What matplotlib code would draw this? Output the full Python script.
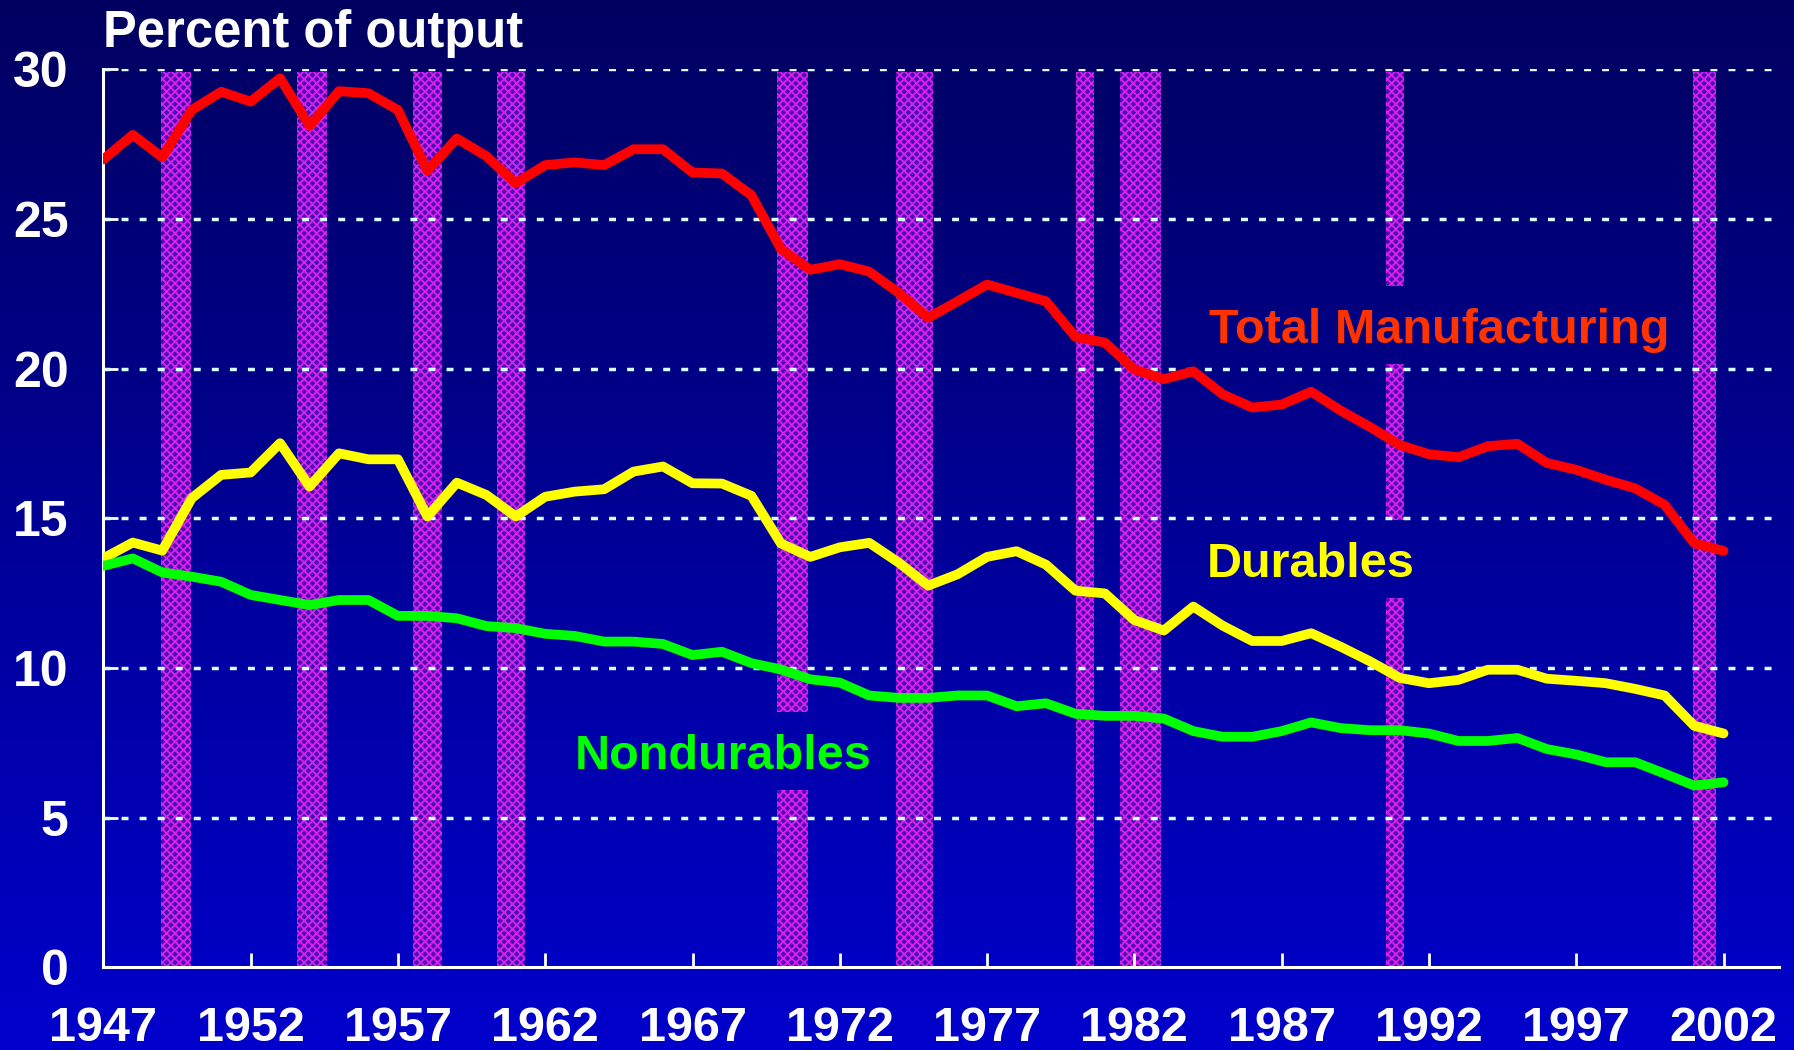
"""Manufacturing share of output, 1947-2002, with recession shading."""
import numpy as np
import matplotlib
matplotlib.use("Agg")
import matplotlib.pyplot as plt
from matplotlib.colors import LinearSegmentedColormap

years = list(range(1947, 2003))
total = [26.99, 27.81, 27.06, 28.64, 29.25, 28.92, 29.70, 28.11, 29.27, 29.20,
         28.64, 26.61, 27.69, 27.10, 26.19, 26.80, 26.89, 26.80, 27.33, 27.33,
         26.55, 26.52, 25.79, 24.00, 23.30, 23.49, 23.24, 22.53, 21.70, 22.25,
         22.81, 22.53, 22.25, 21.06, 20.87, 19.97, 19.65, 19.91, 19.14, 18.70,
         18.80, 19.23, 18.60, 18.05, 17.45, 17.14, 17.04, 17.41, 17.49, 16.85,
         16.62, 16.29, 16.00, 15.45, 14.17, 13.91]
durables = [13.66, 14.19, 13.92, 15.67, 16.45, 16.53, 17.51, 16.06, 17.17, 16.97,
            16.97, 15.06, 16.19, 15.78, 15.06, 15.72, 15.89, 15.97, 16.56, 16.73,
            16.17, 16.16, 15.75, 14.16, 13.71, 14.03, 14.18, 13.52, 12.75, 13.13,
            13.71, 13.90, 13.45, 12.58, 12.49, 11.60, 11.25, 12.05, 11.41, 10.90,
            10.90, 11.16, 10.71, 10.22, 9.67, 9.49, 9.60, 9.94, 9.94, 9.64,
            9.57, 9.49, 9.30, 9.08, 8.07, 7.81]
nondurables = [13.41, 13.66, 13.19, 13.05, 12.88, 12.44, 12.27, 12.10, 12.27, 12.27,
               11.74, 11.74, 11.66, 11.40, 11.33, 11.14, 11.07, 10.88, 10.88, 10.80,
               10.43, 10.54, 10.16, 9.95, 9.62, 9.51, 9.08, 9.00, 9.00, 9.08,
               9.08, 8.72, 8.82, 8.47, 8.40, 8.40, 8.31, 7.89, 7.70, 7.70,
               7.89, 8.18, 7.99, 7.92, 7.92, 7.81, 7.56, 7.56, 7.66, 7.29,
               7.11, 6.85, 6.85, 6.47, 6.07, 6.18]

# recessions (start, end as fractional years)
rec_start = [1948.96, 1953.58, 1957.51, 1960.36, 1969.88, 1973.91, 1980.02, 1981.52, 1990.54, 2000.97]
rec_end = [1949.96, 1954.59, 1958.49, 1961.33, 1970.92, 1975.15, 1980.64, 1982.91, 1991.15, 2001.73]
# bits of shading left out behind the series labels
rec_cutouts = {1969.88: [(5.92, 8.54)], 1990.54: [(12.35, 14.94), (20.16, 22.75)]}

xticks = list(range(1947, 2003, 5))
yticks = [0, 5, 10, 15, 20, 25, 30]

plt.rcParams["font.family"] = ["Liberation Sans", "DejaVu Sans"]
plt.rcParams["font.weight"] = "bold"
plt.rcParams["hatch.linewidth"] = 1.3
plt.rcParams["lines.scale_dashes"] = False

fig = plt.figure(figsize=(17.94, 10.5), dpi=100)

# background gradient, dark navy at the top to brighter blue at the bottom
bg = fig.add_axes([0, 0, 1, 1], zorder=-10)
cmap = LinearSegmentedColormap.from_list("bg", ["#000060", "#0000cc"])
bg.imshow(np.linspace(0, 1, 256).reshape(-1, 1), aspect="auto", cmap=cmap,
          extent=[0, 1, 0, 1], origin="upper")
bg.axis("off")

ax = fig.add_axes([0.0576, 0.0788, 0.934, 0.8552])
ax.patch.set_alpha(0)

bar_top = 29.9
for s, e in zip(rec_start, rec_end):
    lo = 0
    segs = []
    for g0, g1 in rec_cutouts.get(s, []):
        segs.append((lo, g0)); lo = g1
    segs.append((lo, bar_top))
    for b0, b1 in segs:
        ax.bar(s, b1 - b0, width=e - s, bottom=b0, align="edge", facecolor="#4810b0",
               hatch="xxxx", edgecolor="#e01ef0", lw=0, zorder=1)

for v in yticks[1:]:
    ax.axhline(v, color="#d8ffff", lw=2.5, dashes=(5, 8), zorder=2)

ax.plot(years, total, color="#ff0000", lw=7, solid_capstyle="round", zorder=5)
ax.plot(years, durables, color="#ffff00", lw=7, solid_capstyle="round", zorder=5)
ax.plot(years, nondurables, color="#00ff00", lw=7, solid_capstyle="round", zorder=5)

ax.text(1984.53, 20.85, "Total Manufacturing", color="#ff3300", fontsize=35, va="baseline")
ax.text(1984.47, 13.04, "Durables", color="#ffff00", fontsize=35, va="baseline")
ax.text(1963.0, 6.63, "Nondurables", color="#00ff00", fontsize=35, va="baseline")
fig.text(0.0572, 1 - 46.7 / 1050, "Percent of output", color="white", fontsize=36.5, va="baseline")

ax.set_xlim(1947, 2003.88)
ax.set_ylim(0, 30)
for side in ["top", "right"]:
    ax.spines[side].set_visible(False)
for side in ["left", "bottom"]:
    ax.spines[side].set_color("white"); ax.spines[side].set_linewidth(2.2)
ax.set_xticks(xticks); ax.set_yticks(yticks)
ax.tick_params(axis="x", direction="in", length=10, width=2, color="white",
               labelcolor="white", labelsize=35, pad=28)
ax.tick_params(axis="y", direction="in", length=11, width=2, color="white",
               labelcolor="white", labelsize=36, pad=25)

fig.savefig("out.png", dpi=100)
